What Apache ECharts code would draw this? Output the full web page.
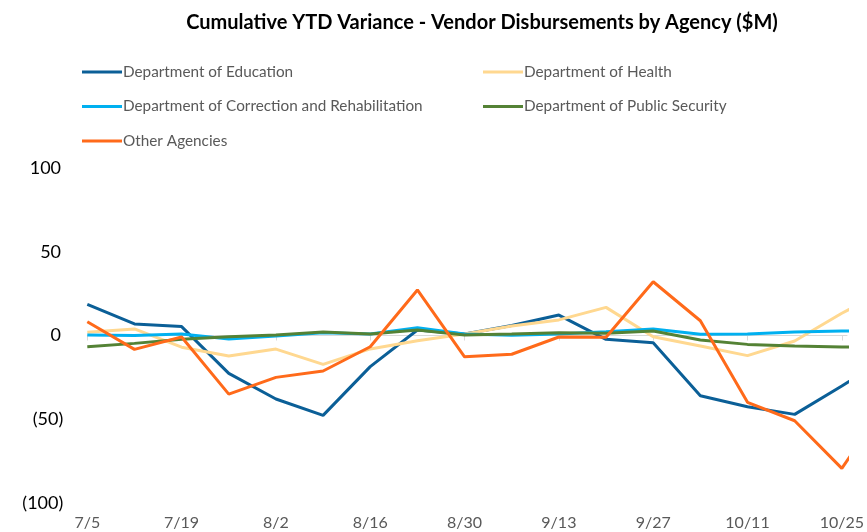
<!DOCTYPE html>
<html>
<head>
<meta charset="utf-8">
<script src="https://cdn.jsdelivr.net/npm/echarts@6/dist/echarts.min.js"></script>
<style>html,body{margin:0;padding:0;background:#fff}#c{width:867px;height:532px}</style>
</head>
<body>
<div id="c"></div>
<script>
// Weekly dates (last week is partly beyond the visible plot, as in the reference)
const dates = ['7/5','7/12','7/19','7/26','8/2','8/9','8/16','8/23','8/30','9/6','9/13','9/20','9/27','10/4','10/11','10/18','10/25','11/1'];
const education   = [18.6, 6.9, 5.3, -22.6, -37.9, -47.7, -18.6, 3.3, 0.9, 6.0, 12.2, -2.3, -4.3, -36.0, -42.5, -47.1, -30.2, -12];
const health      = [1.9, 3.9, -7.0, -12.2, -8.1, -17.2, -8.0, -3.1, 0.9, 5.7, 9.3, 16.8, -0.7, -6.3, -12.0, -3.3, 13.3, 28];
const correction  = [0.3, 0.0, 0.9, -2.1, -0.3, 1.7, 0.9, 4.7, 0.9, 0.1, 0.9, 2.3, 3.9, 0.7, 0.9, 2.1, 2.7, 3];
const publicSec   = [-6.7, -4.7, -2.3, -0.7, 0.3, 2.1, 0.9, 3.3, 0.3, 0.9, 1.7, 1.3, 2.7, -2.7, -5.3, -6.3, -6.9, -7];
const other       = [8.2, -8.3, -0.9, -35.0, -25.0, -21.2, -6.7, 27.2, -12.7, -11.2, -0.9, -1.1, 32.1, 8.8, -39.9, -50.9, -79.3, -38];
const labelIdx    = [0, 2, 4, 6, 8, 10, 12, 14, 16];
const yTicks      = [-100, -50, 0, 50, 100];

const FONT = 'Lato, "Open Sans", sans-serif';
const names = ['Department of Education','Department of Health','Department of Correction and Rehabilitation','Department of Public Security','Other Agencies'];
const colors = ['#0B5F97','#FFD890','#00B0F0','#548235','#FF6A1A'];
const vals = [education, health, correction, publicSec, other];

const chart = echarts.init(document.getElementById('c'), null, {renderer:'canvas'});
const legendCommon = {
  orient: 'vertical', icon: 'rect', itemWidth: 40, itemHeight: 3, itemGap: 18.5,
  textStyle: {fontFamily: FONT, fontSize: 15.3, color: '#595959', lineHeight: 16, padding: [0,0,0,-4]},
  selectedMode: false
};
chart.setOption({
  animation: false,
  title: {
    text: 'Cumulative YTD Variance - Vendor Disbursements by Agency ($M)',
    left: 477, top: 8, textAlign: 'center',
    textStyle: {fontFamily: FONT, fontSize: 20, fontWeight: 'bold', color: '#000'}
  },
  legend: [
    Object.assign({left: 77, top: 59, data: [names[0], names[2], names[4]]}, legendCommon),
    Object.assign({left: 478, top: 59, data: [names[1], names[3]]}, legendCommon)
  ],
  grid: {left: 87.3, right: 15, top: 168, bottom: 29, containLabel: false},
  xAxis: [
    {
      type: 'value', min: 0, max: 16.11, interval: 2,
      axisLine: {onZero: true, lineStyle: {color: '#D9D9D9', width: 1}},
      axisTick: {show: true, length: 5, customValues: labelIdx, lineStyle: {color: '#D9D9D9'}},
      axisLabel: {show: false},
      splitLine: {show: false}
    },
    {
      type: 'value', min: 0, max: 16.11, interval: 2, position: 'bottom',
      axisLine: {show: false, onZero: false},
      axisTick: {show: false},
      axisLabel: {
        show: true, customValues: labelIdx, margin: 12,
        fontFamily: FONT, fontSize: 16, color: '#595959',
        formatter: v => dates[Math.round(v)] || ''
      },
      splitLine: {show: false}
    }
  ],
  yAxis: {
    type: 'value', min: -100, max: 100, interval: 50,
    axisLine: {show: false}, axisTick: {show: false}, splitLine: {show: false},
    axisLabel: {
      fontFamily: FONT, fontSize: 18, color: '#000', margin: 24,
      formatter: v => v < 0 ? '(' + Math.abs(v) + ')' : v + '\u2009'
    }
  },
  series: vals.map((arr, k) => ({
    name: names[k], type: 'line', xAxisIndex: 0,
    data: arr.map((v, i) => [i, v]),
    showSymbol: false, symbol: 'none', clip: true,
    lineStyle: {color: colors[k], width: 3},
    itemStyle: {color: colors[k]},
    z: k === 4 ? 5 : 2 + k * 0.1
  }))
});
</script>
</body>
</html>
